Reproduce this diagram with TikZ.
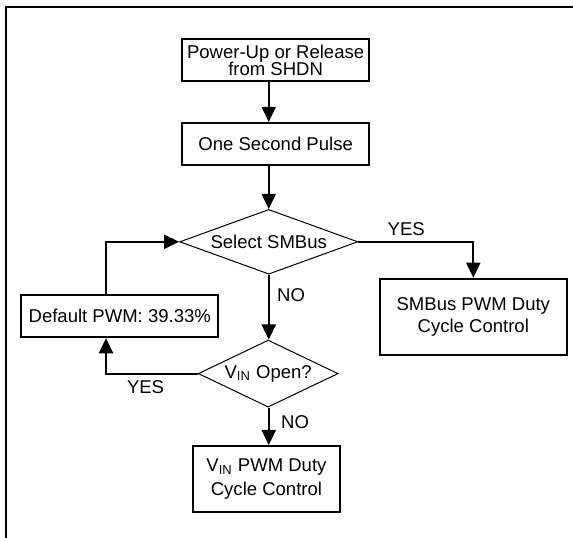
\documentclass[tikz,border=0pt]{standalone}
\usepackage{fontspec}
\setmainfont{Liberation Sans}
\usetikzlibrary{shapes.geometric,arrows.meta}

\begin{document}
\begin{tikzpicture}
	[
	align=center,
	font=\fontsize{9.2}{11}\selectfont,
	box/.style={draw, line width=1pt, inner sep=0pt, minimum width=3.26cm, minimum height=0.73cm},
	decision/.style={draw, diamond, line width=0.5pt, inner sep=0pt},
	tag/.style={inner sep=0pt},
	arrow/.style={line width=1pt, -{Triangle[width=7pt,length=7.5pt]}},
	]
		\useasboundingbox (0,0) rectangle (10,-9.389);
		% frame
		\draw[line width=1pt] (0.105,-9.389) -- (0.105,-0.122) -- (10,-0.122);
		
		% start
		\node[box] (pwr) at 		( 4.81, -1.05 ) {Power-Up or Release\\[-2.5pt]from SHDN};
		\node[box] (sec) at 		( 4.81, -2.51 ) {One Second Pulse};
		
		% decisions
		\node[decision, aspect=2.75, minimum width=3.11cm, minimum height=1.13cm] (sel) at 	( 4.69, -4.22 ) {Select SMBus};
		\node[decision, aspect=2.09, minimum width=2.44cm, minimum height=1.17cm] (vin) at 	( 4.68, -6.52 ) {V\textsubscript{IN} Open?};
		
		% outcomes
		\node[box, minimum width=3.44cm] (dflt) at 		( 2.09, -5.52 ) {Default PWM: 39.33\%};
		\node[box, minimum height=1.33cm] (smb) at 		( 8.26, -5.53 ) {SMBus PWM Duty\\Cycle Control};
		\node[box, minimum width=2.57cm, minimum height=1.15cm] (vpwm) at 	( 4.65, -8.36 ) {V\textsubscript{IN} PWM Duty\\[0.5pt]Cycle Control};
		
		% branch labels
		\node[tag] (yes1) at 		( 7.09, -4.00 ) {YES};
		\node[tag] (no1) at 		( 5.08, -5.15 ) {NO};
		\node[tag] (yes2) at 		( 2.54, -6.75 ) {YES};
		\node[tag] (no2) at 		( 5.15, -7.37 ) {NO};
		
		\foreach \from/\to in {pwr.south/sec.north,sec.south/sel.north,sel.south/vin.north,vin.south/vpwm.north} \draw[arrow] (\from -| sel) -- (\to -| sel);
		\draw[arrow] (sel.east) -| (smb.north);
		\draw[arrow] (vin.west) -| ([xshift=-0.24cm]dflt.south);
		\draw[arrow] ([xshift=-0.24cm]dflt.north) |- (sel.west);
		
	\end{tikzpicture}
\end{document}
